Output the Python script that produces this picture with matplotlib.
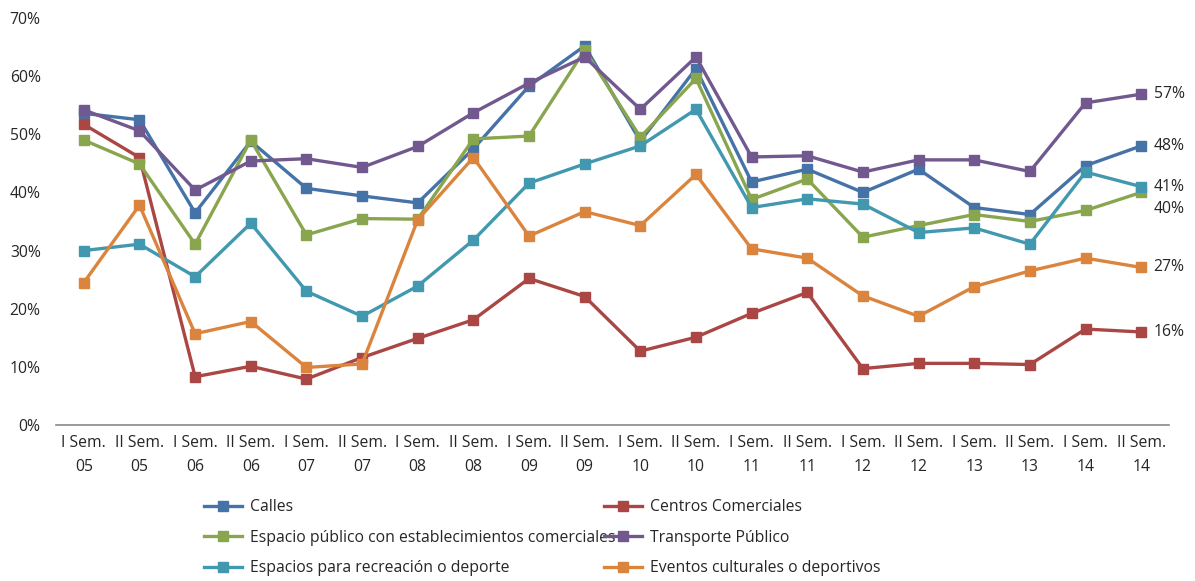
import matplotlib
matplotlib.use("Agg")
import matplotlib.pyplot as plt
from matplotlib.ticker import FuncFormatter

plt.rcParams['font.family'] = ['Open Sans', 'DejaVu Sans']

periods = ["I Sem.\n05", "II Sem.\n05", "I Sem.\n06", "II Sem.\n06", "I Sem.\n07", "II Sem.\n07",
           "I Sem.\n08", "II Sem.\n08", "I Sem.\n09", "II Sem.\n09", "I Sem.\n10", "II Sem.\n10",
           "I Sem.\n11", "II Sem.\n11", "I Sem.\n12", "II Sem.\n12", "I Sem.\n13", "II Sem.\n13",
           "I Sem.\n14", "II Sem.\n14"]

calles = [53.6, 52.5, 36.5, 48.8, 40.7, 39.4, 38.2, 47.5, 58.3, 65.2,
          48.8, 61.3, 41.8, 44.0, 40.0, 44.0, 37.4, 36.2, 44.6, 48.0]
centros = [51.7, 46.0, 8.3, 10.1, 7.9, 11.6, 14.9, 18.1, 25.2, 22.1,
           12.7, 15.1, 19.2, 22.8, 9.7, 10.6, 10.6, 10.4, 16.5, 16.0]
espacio_publico = [49.0, 44.9, 31.1, 49.0, 32.7, 35.5, 35.4, 49.2, 49.7, 64.5,
                   49.5, 59.6, 38.8, 42.3, 32.3, 34.3, 36.2, 35.0, 36.9, 40.0]
transporte = [54.2, 50.6, 40.4, 45.4, 45.8, 44.3, 47.9, 53.7, 58.8, 63.3,
              54.3, 63.3, 46.1, 46.3, 43.5, 45.6, 45.6, 43.6, 55.4, 56.9]
recreacion = [30.0, 31.1, 25.5, 34.7, 23.0, 18.7, 23.9, 31.8, 41.6, 44.9,
              48.0, 54.3, 37.4, 38.9, 38.0, 33.1, 33.9, 31.1, 43.5, 41.0]
eventos = [24.5, 37.8, 15.7, 17.8, 9.9, 10.5, 35.3, 46.0, 32.5, 36.7,
           34.3, 43.1, 30.3, 28.7, 22.2, 18.7, 23.8, 26.5, 28.7, 27.1]

names = ["Calles", "Centros Comerciales", "Espacio público con establecimientos comerciales",
         "Transporte Público", "Espacios para recreación o deporte", "Eventos culturales o deportivos"]
series = [calles, centros, espacio_publico, transporte, recreacion, eventos]
colors = ["#4572A7", "#AA4643", "#89A54E", "#71588F", "#4198AF", "#DB843D"]
label_offsets = [0, 0, -12, 0, 0, 0]  # points, vertical offset of end labels

fig = plt.figure(figsize=(11.95, 5.81), dpi=100)
ax = fig.add_axes([56 / 1195, 1 - 425 / 581, (1169 - 56) / 1195, (425 - 18) / 581])

x = list(range(len(periods)))
handles = []
for name, vals, col, off in zip(names, series, colors, label_offsets):
    y = [v / 100 for v in vals]
    h, = ax.plot(x, y, color=col, lw=2.4, marker='s', ms=6.5, mec=col, mfc=col, label=name)
    handles.append(h)
    ax.annotate(f"{round(vals[-1]):.0f}%", xy=(x[-1], y[-1]), xytext=(9, off),
                textcoords='offset points', va='center', ha='left', fontsize=11.3, color='#262626')

ax.set_xlim(-0.5, len(periods) - 0.5)
ax.set_ylim(0, 0.70)
ax.set_yticks([i / 10 for i in range(8)])
ax.yaxis.set_major_formatter(FuncFormatter(lambda v, p: f"{v*100:.0f}%"))
ax.set_xticks(x)
ax.set_xticklabels(periods, linespacing=1.65)
ax.tick_params(axis='both', length=0, labelsize=11.3, colors='#262626')
ax.tick_params(axis='y', pad=11)
ax.tick_params(axis='x', pad=7)
for s in ['top', 'right', 'left']:
    ax.spines[s].set_visible(False)
ax.spines['bottom'].set_color('#888888')
ax.spines['bottom'].set_linewidth(1.2)

leg_kw = dict(frameon=False, fontsize=11.3, handlelength=2.4, handletextpad=0.5,
              labelspacing=0.92, borderaxespad=0, labelcolor='#262626')
leg1 = fig.legend([handles[0], handles[2], handles[4]], [names[0], names[2], names[4]],
                  loc='upper left', bbox_to_anchor=(198 / 1195, 1 - 493 / 581), **leg_kw)
leg2 = fig.legend([handles[1], handles[3], handles[5]], [names[1], names[3], names[5]],
                  loc='upper left', bbox_to_anchor=(598 / 1195, 1 - 493 / 581), **leg_kw)

fig.savefig("out.png", dpi=100)
